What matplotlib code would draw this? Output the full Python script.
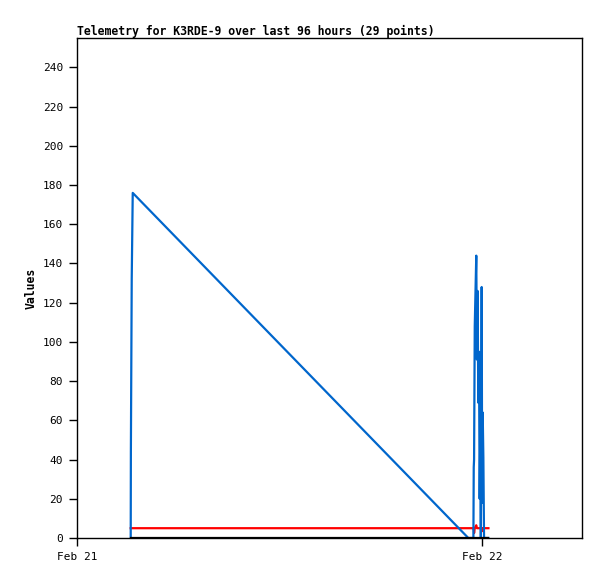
#imports
import matplotlib
matplotlib.use("Agg")
import matplotlib.pyplot as plt
import matplotlib.dates as mdates
import pandas as pd

#data (hours after Feb 21 00:00)
hours = [3.18, 3.19, 3.24, 3.30, 23.17, 23.47, 23.49, 23.51, 23.55, 23.64,
         23.68, 23.72, 23.76, 23.80, 23.84, 23.88, 23.91, 23.96, 23.99, 24.02,
         24.06, 24.10, 24.12, 24.14, 24.18, 24.22, 24.26, 24.30, 24.36]
blue_vals = [0, 44, 132, 176, 0, 0, 36, 40, 108, 144,
             91, 126, 69, 95, 20, 55, 0, 128, 18, 64,
             41, 0, 0, 0, 0, 0, 0, 0, 0]
red_vals = [5, 5, 5, 5, 5, 5, 5, 2.5, 5, 6.5,
            5, 5, 5, 5, 5, 5, 5, 5, 3.5, 5,
            5, 5, 5, 5, 5, 5, 5, 5, 5]
black_vals = [0] * 29
y_ticks = list(range(0, 241, 20))
title = "Telemetry for K3RDE-9 over last 96 hours (29 points)"

start = pd.Timestamp("2024-02-21")
times = [start + pd.Timedelta(hours=h) for h in hours]

font = "DejaVu Sans Mono"

fig = plt.figure(figsize=(5.97, 5.79), dpi=100)
ax = fig.add_axes([77/597, 41/579, 505/597, 500/579])

ax.plot(times, red_vals, color="#ff0000", lw=1.6)
ax.plot(times, blue_vals, color="#0066cc", lw=1.6)
ax.plot(times, black_vals, color="black", lw=1.6)

ax.set_xlim(start, start + pd.Timedelta(hours=29.9))
ax.set_ylim(0, 255)
ax.set_yticks(y_ticks)
ax.xaxis.set_major_locator(mdates.DayLocator())
ax.xaxis.set_major_formatter(mdates.DateFormatter("%b %d"))

ax.tick_params(direction="out", length=6, width=1, labelsize=8, pad=4)
for lab in ax.get_xticklabels() + ax.get_yticklabels():
    lab.set_family(font)

ax.set_title(title, fontsize=8.3, fontweight="bold", family=font, loc="left", pad=2)
ax.set_ylabel("Values", fontsize=8.3, fontweight="bold", family=font, labelpad=4)

for s in ax.spines.values():
    s.set_linewidth(1)

fig.savefig("out.png", dpi=100)
